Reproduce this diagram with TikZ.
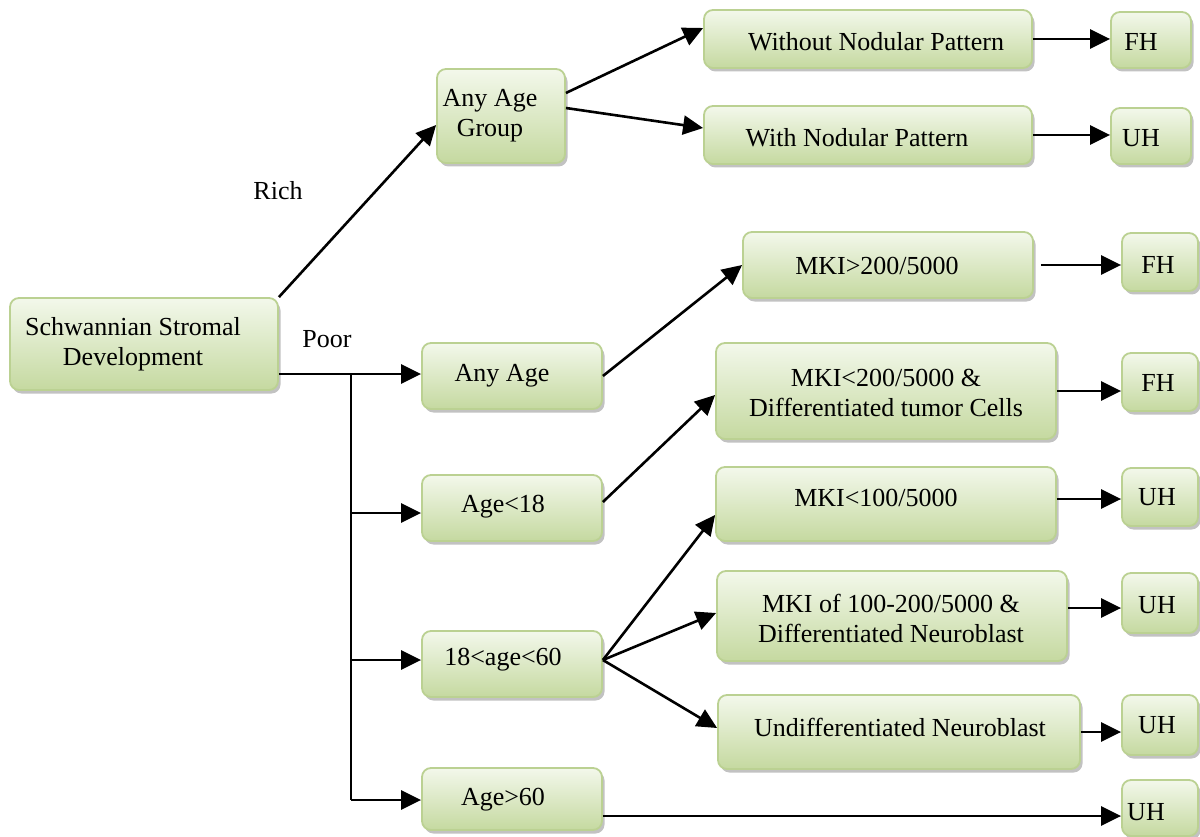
\documentclass[tikz,border=0pt]{standalone}
\usepackage{fontspec}
\setmainfont{Liberation Serif}
\usetikzlibrary{arrows.meta,shadows,calc}
\definecolor{boxtop}{HTML}{F3F8EB}
\definecolor{boxbot}{HTML}{C5D9A0}
\definecolor{boxdraw}{HTML}{BBD192}
\tikzset{
  bx/.style={rectangle, rounded corners=9pt, draw=boxdraw, line width=1.8pt,
    top color=boxtop, bottom color=boxbot,
    drop shadow={shadow xshift=2.5pt, shadow yshift=-3.5pt, fill=black!40, opacity=0.6},
    inner sep=0pt},
  txt/.style={font=\fontsize{26}{30}\selectfont, align=center, inner sep=0pt, text=black},
  t/.style n args={3}{label={[txt,xshift=#1pt,yshift=#2pt]center:{#3}}},
  conn/.style={line width=2.6pt, black},
  arr/.style={conn, -{Triangle[length=20pt,width=19pt]}},
}
\begin{document}
\begin{tikzpicture}[x=1pt,y=-1pt]
\useasboundingbox (0,0) rectangle (1200,837);
% boxes
\node[bx, minimum width=268pt, minimum height=92pt, t={-11}{0}{Schwannian Stromal\\Development}] (src) at (144,344) {};
\node[bx, minimum width=128pt, minimum height=94pt, t={-11}{0}{Any Age\\Group}] (aag) at (501,116) {};
\node[bx, minimum width=328pt, minimum height=58pt, t={8}{-3}{Without Nodular Pattern}] (wo) at (868,39) {};
\node[bx, minimum width=328pt, minimum height=58pt, t={-11}{-3}{With Nodular Pattern}] (wi) at (868,135) {};
\node[bx, minimum width=80pt, minimum height=56pt, t={-10}{-2}{FH}] (fh1) at (1151,40) {};
\node[bx, minimum width=80pt, minimum height=56pt, t={-10}{-2}{UH}] (uh1) at (1151,136) {};
\node[bx, minimum width=290pt, minimum height=66pt, t={-11}{-1}{MKI>200/5000}] (mk1) at (888,265) {};
\node[bx, minimum width=76pt, minimum height=58pt, t={-2}{-3}{FH}] (fh2) at (1160,262) {};
\node[bx, minimum width=180pt, minimum height=66pt, t={-10}{0}{Any Age}] (aa) at (512,376) {};
\node[bx, minimum width=340pt, minimum height=96pt, t={0}{-2}{MKI<200/5000 \&\\Differentiated tumor Cells}] (mk2) at (886,391) {};
\node[bx, minimum width=76pt, minimum height=58pt, t={-2}{-1}{FH}] (fh3) at (1160,382) {};
\node[bx, minimum width=180pt, minimum height=66pt, t={-9}{1}{Age<18}] (a18) at (512,508) {};
\node[bx, minimum width=340pt, minimum height=74pt, t={-10}{6}{MKI<100/5000}] (mk3) at (886,504) {};
\node[bx, minimum width=76pt, minimum height=58pt, t={-3}{0}{UH}] (uh3) at (1160,497) {};
\node[bx, minimum width=180pt, minimum height=66pt, t={-9}{4}{18<age<60}] (a1860) at (512,664) {};
\node[bx, minimum width=350pt, minimum height=90pt, t={-1}{-2}{MKI of 100-200/5000 \&\\Differentiated Neuroblast}] (mk4) at (892,616) {};
\node[bx, minimum width=76pt, minimum height=60pt, t={-3}{-2}{UH}] (uh4) at (1160,603) {};
\node[bx, minimum width=362pt, minimum height=74pt, t={1}{5}{Undifferentiated Neuroblast}] (und) at (899,732) {};
\node[bx, minimum width=76pt, minimum height=60pt, t={-3}{0}{UH}] (uh5) at (1160,725) {};
\node[bx, minimum width=180pt, minimum height=62pt, t={-9}{-1}{Age>60}] (a60) at (512,799) {};
\node[bx, minimum width=76pt, minimum height=56pt, t={-14}{-4}{UH}] (uh6) at (1160,808) {};
% edge labels
\node[txt] (rich) at (278,191) {Rich};
\node[txt] (poor) at (327,339) {Poor};
% connectors: rich branch
\draw[arr] (src.north east) -- ([yshift=-9pt]aag.west);
\draw[arr] ([yshift=23pt]aag.east) -- ([yshift=11pt]wo.west);
\draw[arr] ([yshift=8pt]aag.east) -- ([yshift=7pt]wi.west);
\draw[arr] (wo.east) -- (wo.east -| fh1.west);
\draw[arr] (wi.east) -- (wi.east -| uh1.west);
% poor branch trunk
\coordinate (j1) at (351,374);
\coordinate (j2) at (351,513);
\coordinate (j3) at (351,660);
\coordinate (j4) at (351,800);
\draw[arr] (src.east |- j1) -- (j1 -| aa.west);
\draw[conn] (j1) -- (j4);
\draw[arr] (j2) -- (j2 -| a18.west);
\draw[arr] (j3) -- (j3 -| a1860.west);
\draw[arr] (j4) -- (j4 -| a60.west);
% second level
\draw[arr] (aa.east) -- (mk1.west);
\coordinate (p1) at ([xshift=7pt]mk1.east);
\draw[arr] (p1) -- (p1 -| fh2.west);
\draw[arr] ([yshift=6pt]a18.east) -- ([yshift=-4pt]mk2.west);
\draw[arr] (mk2.east) -- (mk2.east -| fh3.west);
\coordinate (s3) at ([yshift=4pt]a1860.east);
\draw[arr] (s3) -- ([yshift=-11pt]mk3.west);
\draw[arr] (s3) -- ([yshift=3pt]mk4.west);
\draw[arr] (s3) -- ([yshift=4pt]und.west);
\coordinate (p3) at ([yshift=5pt]mk3.east);
\draw[arr] (p3) -- (p3 -| uh3.west);
\coordinate (p4) at ([yshift=8pt]mk4.east);
\draw[arr] (p4) -- (p4 -| uh4.west);
\draw[arr] (und.east) -- (und.east -| uh5.west);
\coordinate (p6) at ([yshift=-17pt]a60.east);
\draw[arr] (p6) -- (p6 -| uh6.west);
\end{tikzpicture}
\end{document}
